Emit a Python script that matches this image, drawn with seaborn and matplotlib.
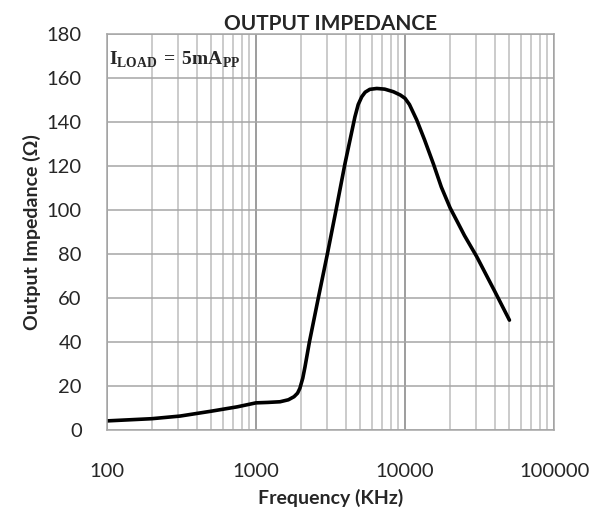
import numpy as np
import pandas as pd
import matplotlib
matplotlib.use("Agg")
import matplotlib.pyplot as plt
import seaborn as sns
from matplotlib.ticker import LogLocator, FixedLocator

freq_khz = [100, 200, 310, 500, 750, 1000, 1200, 1450, 1650, 1800, 1900, 1970, 2060, 2133,
            2282, 2618, 3011, 3443, 3950, 4610, 4850, 5120, 5400, 5800, 6460, 7300, 8360,
            9300, 10000, 10700, 11970, 13500, 15490, 17500, 20050, 22500, 25000, 30270,
            40000, 50100]
impedance = [4.2, 5.2, 6.4, 8.6, 10.6, 12.4, 12.6, 12.9, 13.8, 15.2, 16.8, 19.0, 23.6, 28.8,
             40, 60, 80, 100, 121, 142.4, 148, 151.5, 153.6, 154.9, 155.3, 155.0, 153.8,
             152.3, 150.8, 148, 141, 132, 121, 110.5, 101, 94.5, 88.5, 78.8,
             63, 50]
x_ticks = [100, 1000, 10000, 100000]
y_ticks = list(range(0, 181, 20))

df = pd.DataFrame({"freq": freq_khz, "z": impedance})

sns.set_style("white")
plt.rcParams['font.family'] = ['Lato', 'DejaVu Sans']
plt.rcParams['mathtext.fontset'] = 'custom'
plt.rcParams['mathtext.rm'] = 'Liberation Serif'
plt.rcParams['mathtext.bf'] = 'Liberation Serif:bold'

fig = plt.figure(figsize=(6.07, 5.17), dpi=100)
ax = fig.add_axes([0.176, 0.168, 0.737, 0.766])

sns.lineplot(data=df, x="freq", y="z", sort=False, color="black", linewidth=2.6, ax=ax)
ax.lines[0].set_solid_joinstyle("round")
ax.set_xscale("log")
ax.set_xlim(100, 100000)
ax.set_ylim(0, 180)

ax.xaxis.set_major_locator(FixedLocator(x_ticks))
ax.xaxis.set_minor_locator(LogLocator(base=10, subs=np.arange(2, 10)))
ax.set_xticklabels([str(t) for t in x_ticks])
ax.set_yticks(y_ticks)
ax.grid(which="major", axis="x", color="#8c8c8c", linewidth=1.2)
ax.grid(which="minor", axis="x", color="#bdbdbd", linewidth=1.1)
ax.grid(which="major", axis="y", color="#a6a6a6", linewidth=1.1)
ax.set_axisbelow(True)
for s in ax.spines.values():
    s.set_color("#a6a6a6")
    s.set_linewidth(1.1)

ax.tick_params(axis="x", which="both", length=0, pad=24, labelsize=14.5)
ax.tick_params(axis="y", length=0, pad=18, labelsize=14.5)

ax.set_xlabel("Frequency (KHz)", fontsize=14, fontweight="bold", labelpad=6)
ax.set_ylabel("Output Impedance (Ω)", fontsize=14, fontweight="bold", labelpad=4)
ax.set_title("OUTPUT IMPEDANCE", fontsize=15, fontweight="bold", pad=3)

ax.text(0.005, 0.96, r"$\mathbf{I}_{\mathbf{LOAD}}\mathbf{\,=\,5mA}_{\mathbf{PP}}$",
        transform=ax.transAxes, fontsize=14, va="top", ha="left")

fig.savefig("out.png", dpi=100)
